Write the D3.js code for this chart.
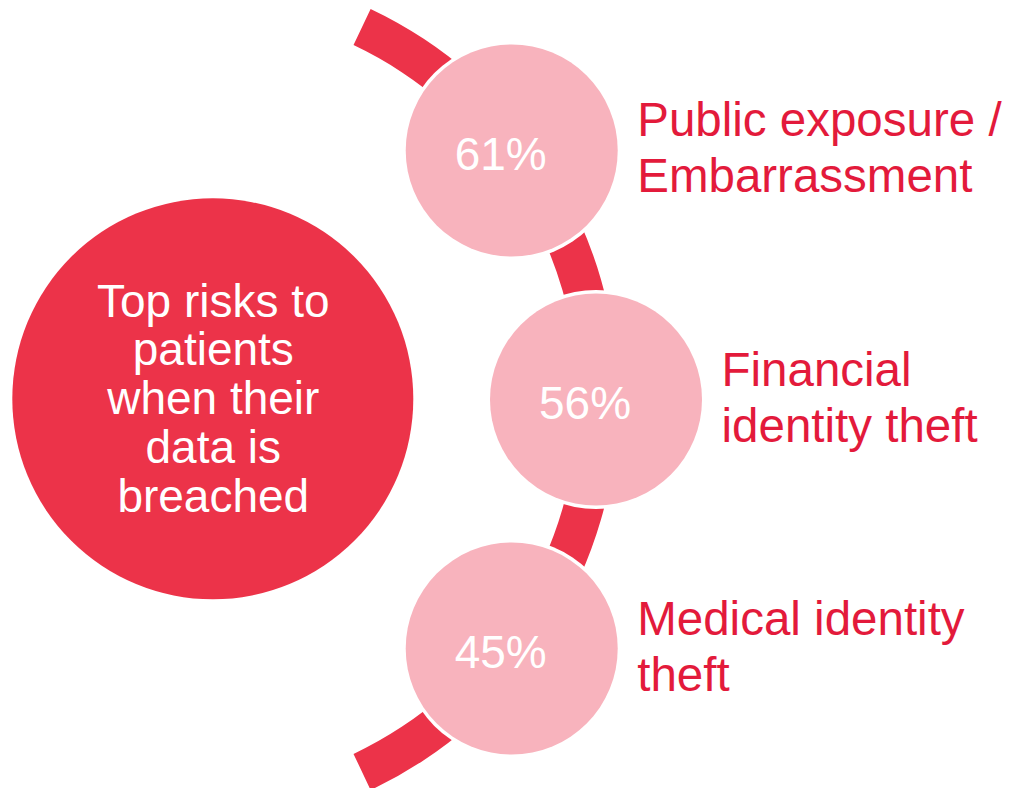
<!DOCTYPE html>
<html>
<head>
<meta charset="utf-8">
<script src="https://cdn.jsdelivr.net/npm/d3@7"></script>
<style>
  html, body { margin: 0; padding: 0; background: #fff; }
  svg { display: block; }
  text { font-family: "Liberation Sans", Arial, sans-serif; }
</style>
</head>
<body>
<svg id="chart" width="1018" height="788"></svg>
<script>
// ---- data ----
const categories = ["Public exposure / Embarrassment", "Financial identity theft", "Medical identity theft"];
const labelLines = [["Public exposure /", "Embarrassment"], ["Financial", "identity theft"], ["Medical identity", "theft"]];
const values = [61, 56, 45];
const titleLines = ["Top risks to", "patients", "when their", "data is", "breached"];

// ---- layout ----
const svg = d3.select("#chart");
const red = "#EC3349", pink = "#F8B3BD", textRed = "#E31A3B";

const hub = { x: 186, y: 399.5 };        // centre of the connecting arc
const ringR = 410;                        // radius on which satellites sit
const arcStart = 25.3 * Math.PI / 180, arcEnd = 154.7 * Math.PI / 180;

const angle = d3.scalePoint()
  .domain(categories)
  .range([arcStart, arcEnd])
  .padding(0.73);

// connecting arc
svg.append("path")
  .attr("transform", `translate(${hub.x},${hub.y})`)
  .attr("d", d3.arc()({ innerRadius: 392, outerRadius: 432, startAngle: arcStart, endAngle: arcEnd }))
  .attr("fill", red);

// central circle
const main = { x: 212.8, y: 398.8, r: 200.5 };
svg.append("circle").attr("cx", main.x).attr("cy", main.y).attr("r", main.r).attr("fill", red);
const lh = 48.75;
svg.append("text")
  .attr("text-anchor", "middle")
  .attr("fill", "#fff")
  .attr("font-size", 46)
  .selectAll("tspan")
  .data(titleLines)
  .join("tspan")
  .attr("x", main.x + 0.5)
  .attr("y", (d, i) => 316.7 + i * lh)
  .text(d => d);

// satellites
const satR = 106;
const pos = c => ({
  x: hub.x + ringR * Math.sin(angle(c)),
  y: hub.y - ringR * Math.cos(angle(c))
});

const g = svg.selectAll("g.sat")
  .data(categories.map((c, i) => ({ c, v: values[i], lines: labelLines[i], p: pos(c) })))
  .join("g")
  .attr("class", "sat")
  .attr("transform", d => `translate(${d.p.x},${d.p.y})`);

g.append("circle").attr("r", satR + 3.5).attr("fill", "#fff");
g.append("circle").attr("r", satR).attr("fill", pink);
g.append("text")
  .attr("x", -11)
  .attr("y", 19.5)
  .attr("text-anchor", "middle")
  .attr("fill", "#fff")
  .attr("font-size", 46)
  .text(d => d.v + "%");

g.append("text")
  .attr("fill", textRed)
  .attr("font-size", 47.5)
  .selectAll("tspan")
  .data(d => d.lines)
  .join("tspan")
  .attr("x", satR + 19.5)
  .attr("y", (d, i) => -14 + i * 56)
  .text(d => d);
</script>
</body>
</html>
